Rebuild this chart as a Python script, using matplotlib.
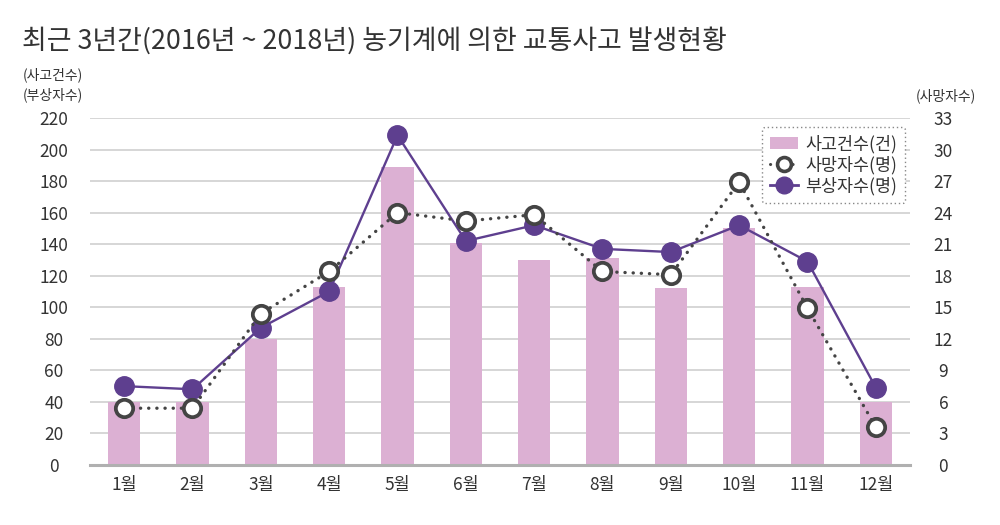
import matplotlib
matplotlib.use("Agg")
import matplotlib.pyplot as plt
from matplotlib.lines import Line2D
from matplotlib.patches import Patch

plt.rcParams["font.family"] = ["Noto Sans CJK KR", "DejaVu Sans"]

# Data ------------------------------------------------------------------------
months = ["1월", "2월", "3월", "4월", "5월", "6월",
          "7월", "8월", "9월", "10월", "11월", "12월"]
accidents = [40, 40, 80, 113, 189, 141, 130, 131, 112, 150, 113, 40]   # 사고건수(건)
injured = [50, 48, 87, 110, 209, 142, 152, 137, 135, 152, 129, 49]     # 부상자수(명)
deaths = [5.4, 5.4, 14.4, 18.4, 24.0, 23.2, 23.8, 18.4, 18.1, 26.9, 14.9, 3.6]  # 사망자수(명)

left_ticks = list(range(0, 221, 20))
right_ticks = list(range(0, 34, 3))

title = "최근 3년간(2016년 ~ 2018년) 농기계에 의한 교통사고 발생현황"

# Style -----------------------------------------------------------------------
_BAR = "#dcb0d3"
_PURPLE = "#5e3f8f"
_DARK = "#444444"
_GRID = "#cfcfcf"
_TEXT = "#333333"
_DOTS = (0, (0.05, 2.4))

x = list(range(len(months)))

fig = plt.figure(figsize=(10, 5.25), dpi=100)
ax = fig.add_axes([0.09, 0.1143, 0.82, 0.661])
ax2 = ax.twinx()

ax.bar(x, accidents, width=0.47, color=_BAR, zorder=2)
ax.plot(x, injured, color=_PURPLE, linewidth=1.7, marker="o",
        markersize=14, zorder=3)
ax2.plot(x, deaths, color=_DARK, linewidth=2.4, linestyle=_DOTS,
         dash_capstyle="round", marker="o", markersize=12.5,
         markerfacecolor="white", markeredgecolor=_DARK, markeredgewidth=2.7)

ax.set_xlim(-0.5, len(months) - 0.5)
ax.set_ylim(0, 220)
ax2.set_ylim(0, 33)
ax.set_yticks(left_ticks)
ax2.set_yticks(right_ticks)
ax.set_xticks(x)
ax.set_xticklabels(months)

ax.grid(axis="y", color=_GRID, linewidth=1.2, zorder=0)
ax.set_axisbelow(True)
for a in (ax, ax2):
    for s in ("top", "left", "right", "bottom"):
        a.spines[s].set_visible(False)
ax.axhline(0, color="#b0b0b0", linewidth=2.2, zorder=4, clip_on=False)

ax.tick_params(axis="y", length=0, pad=26, labelsize=12.5, labelcolor=_TEXT)
ax2.tick_params(axis="y", length=0, pad=24, labelsize=12.5, labelcolor=_TEXT)
ax.tick_params(axis="x", length=0, pad=8, labelsize=12.5, labelcolor=_TEXT)
for lbl in ax.get_yticklabels() + ax2.get_yticklabels():
    lbl.set_horizontalalignment("center")

fig.text(0.022, 0.922, title, fontsize=19.4, color=_TEXT, fontweight="medium",
         va="center", ha="left")
fig.text(0.053, 0.857, "(사고건수)", fontsize=10, color=_TEXT, ha="center", va="center")
fig.text(0.053, 0.819, "(부상자수)", fontsize=10, color=_TEXT, ha="center", va="center")
fig.text(0.946, 0.817, "(사망자수)", fontsize=10, color=_TEXT, ha="center", va="center")

handles = [
    Patch(facecolor=_BAR, edgecolor="none", label="사고건수(건)"),
    Line2D([], [], color=_DARK, linewidth=2.2, linestyle=_DOTS,
           dash_capstyle="round", marker="o", markersize=10,
           markerfacecolor="white", markeredgecolor=_DARK,
           markeredgewidth=2.6, label="사망자수(명)"),
    Line2D([], [], color=_PURPLE, linewidth=2, marker="o", markersize=12,
           label="부상자수(명)"),
]
leg = ax2.legend(handles=handles, loc="upper right", bbox_to_anchor=(0.994, 0.974),
                 borderaxespad=0, fontsize=12.5, frameon=True, fancybox=True,
                 handlelength=1.6, handletextpad=0.45, labelspacing=0.15,
                 borderpad=0.45, labelcolor=_TEXT)
leg.set_zorder(10)
frame = leg.get_frame()
frame.set_linestyle((0, (1, 2)))
frame.set_edgecolor("#888888")
frame.set_linewidth(1.0)
frame.set_facecolor("white")
frame.set_alpha(1)

fig.savefig("out.png", dpi=100)
